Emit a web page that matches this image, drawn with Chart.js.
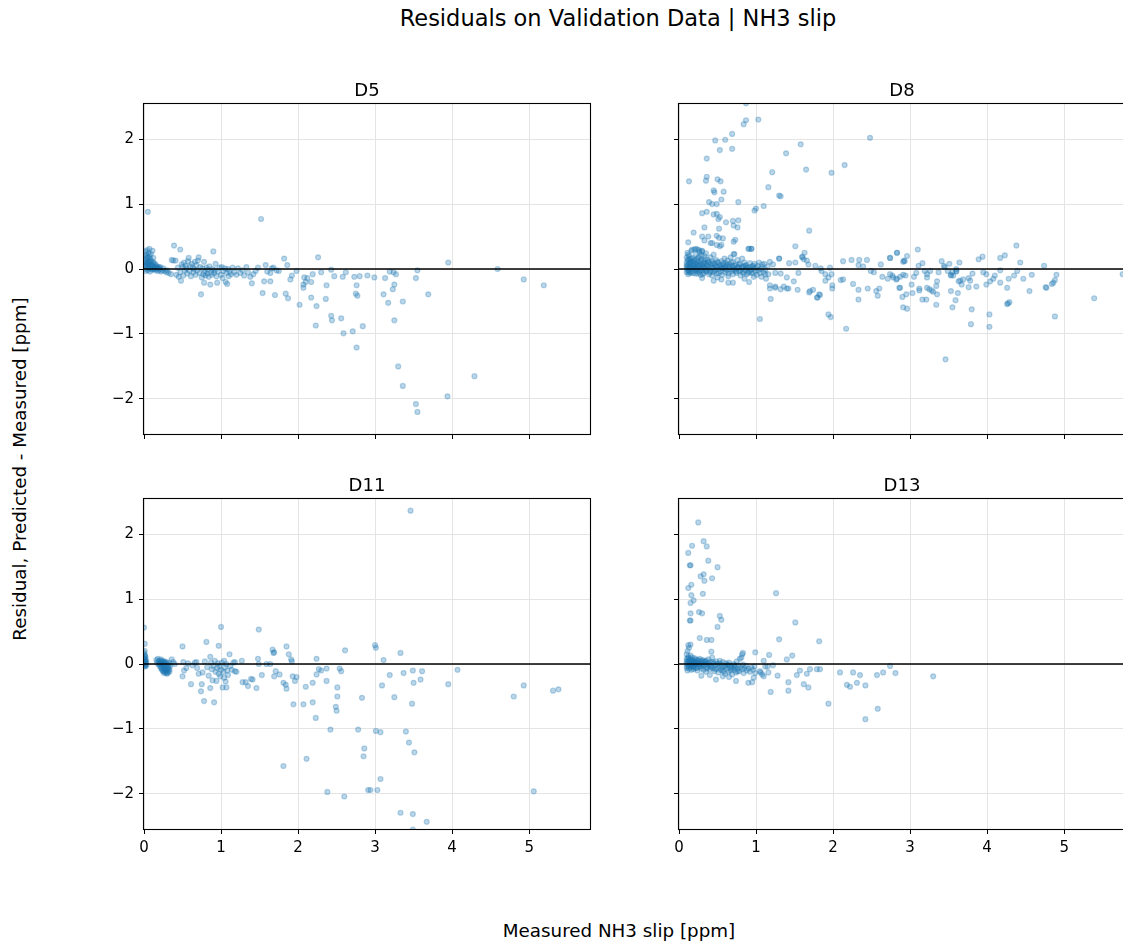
<!DOCTYPE html>
<html>
<head>
<meta charset="utf-8">
<script src="https://cdn.jsdelivr.net/npm/chart.js@4.4.1/dist/chart.umd.min.js"></script>
<style>
  html, body { margin: 0; padding: 0; background: #fff; overflow: hidden; width: 1123px; height: 942px; }
  .lbl { position: absolute; font-family: "DejaVu Sans", sans-serif; color: #000; white-space: nowrap; transform: translate(-50%, -50%); }
  canvas { position: absolute; }
</style>
</head>
<body>
<div class="lbl" style="left:618px; top:18px; font-size:22.5px;">Residuals on Validation Data | NH3 slip</div>
<div class="lbl" style="left:619px; top:930px; font-size:18.3px;">Measured NH3 slip [ppm]</div>
<div class="lbl" style="left:19px; top:469px; font-size:18.3px; transform:translate(-50%, -50%) rotate(-90deg);">Residual, Predicted - Measured [ppm]</div>

<canvas id="p0" width="566" height="410" style="left:84px; top:64px;"></canvas>
<canvas id="p1" width="566" height="410" style="left:619px; top:64px;"></canvas>
<canvas id="p2" width="566" height="410" style="left:84px; top:459px;"></canvas>
<canvas id="p3" width="566" height="410" style="left:619px; top:459px;"></canvas>

<script>
// Panel titles (one per dryer line)
const panelTitles = ['D5', 'D8', 'D11', 'D13'];

// Shared axis settings
const xLimits = [0, 5.79];
const yLimits = [-2.54, 2.54];
const xTickValues = [0, 1, 2, 3, 4, 5];
const yTickValues = [-2, -1, 0, 1, 2];
const yTickLabels = ['\u22122', '\u22121', '0', '1', '2'];
const zeroLevel = 0;

// Residuals: [measured NH3 slip, predicted - measured]
const d5Points = [
  [0.01,0.05],[0.01,0.12],[0.01,0.20],[0.02,0.27],[0.02,0.00],[0.02,-0.03],[0.03,0.08],[0.03,0.15],[0.03,0.22],[0.04,0.03],
  [0.04,0.10],[0.04,0.29],[0.05,0.18],[0.05,-0.02],[0.05,0.06],[0.06,0.25],[0.06,0.13],[0.06,0.01],[0.07,0.09],[0.07,0.20],
  [0.07,0.31],[0.08,0.04],[0.08,-0.04],[0.08,0.16],[0.09,0.23],[0.09,0.07],[0.10,0.02],[0.10,0.12],[0.11,0.28],[0.11,-0.01],
  [0.12,0.05],[0.12,0.17],[0.13,0.09],[0.13,0.00],[0.14,0.03],[0.15,-0.02],[0.15,0.07],[0.16,0.01],[0.17,0.04],[0.18,-0.03],
  [0.19,0.02],[0.20,-0.01],[0.21,0.03],[0.22,-0.04],[0.24,-0.02],[0.25,0.01],[0.27,-0.03],[0.29,-0.05],[0.30,-0.02],[0.05,0.88],
  [0.02,0.10],[0.03,0.04],[0.04,0.18],[0.05,0.11],[0.06,0.07],[0.07,0.02],[0.08,0.12],[0.09,0.00],[0.10,0.07],[0.11,0.03],
  [0.12,0.10],[0.14,0.00],[0.16,0.04],[0.18,0.01],[0.20,0.02],
  [0.32,-0.06],[0.35,-0.08],[0.36,0.14],[0.38,0.13],[0.39,0.36],[0.41,0.13],[0.42,-0.09],[0.44,0.02],[0.45,-0.12],[0.47,0.30],
  [0.47,-0.05],[0.48,-0.18],[0.49,0.07],[0.50,0.03],[0.51,-0.10],[0.52,0.10],[0.53,-0.02],[0.54,0.05],[0.55,0.01],[0.56,-0.07],
  [0.57,0.12],[0.58,0.17],[0.59,-0.03],[0.60,0.04],[0.61,-0.11],[0.62,0.08],[0.63,0.02],[0.64,-0.05],[0.65,0.00],[0.66,0.11],
  [0.67,-0.09],[0.68,0.06],[0.69,-0.02],[0.70,0.13],[0.71,0.18],[0.72,-0.06],[0.73,0.03],[0.74,-0.39],[0.75,-0.13],[0.76,0.01],
  [0.77,-0.08],[0.78,0.11],[0.78,-0.21],[0.79,-0.04],[0.80,-0.10],[0.81,0.02],[0.82,-0.07],[0.83,-0.01],[0.84,-0.12],[0.85,0.04],
  [0.86,-0.24],[0.87,-0.05],[0.88,-0.09],[0.89,0.00],[0.90,0.27],[0.91,-0.06],[0.92,-0.02],[0.93,0.08],[0.94,-0.11],[0.95,-0.21],
  [0.96,-0.04],[0.98,0.02],[1.00,-0.09],[1.01,0.03],[1.02,-0.14],[1.03,-0.03],[1.05,0.01],[1.06,-0.20],[1.07,-0.06],[1.08,-0.23],
  [1.09,0.00],[1.10,-0.11],[1.11,-0.04],[1.13,-0.08],[1.15,0.02],[1.17,-0.05],[1.20,-0.09],[1.22,0.01],[1.25,-0.06],[1.28,-0.02],
  [1.30,-0.10],[1.33,0.03],[1.35,-0.05],[1.38,-0.12],[1.40,-0.22],[1.42,-0.08],[1.45,-0.03],[1.48,0.02],[1.52,0.77],[1.54,-0.37],
  [1.56,-0.19],[1.58,0.06],[1.60,-0.04],[1.64,-0.19],[1.64,-0.06],[1.66,0.01],[1.68,0.02],[1.70,-0.40],[1.72,-0.02],[1.75,-0.03],
  [1.82,0.16],[1.84,-0.38],[1.86,0.06],[1.87,-0.45],[1.90,-0.16],[1.92,-0.10],[1.98,-0.03],[2.02,-0.55],[2.07,-0.24],[2.07,-0.29],
  [2.08,-0.13],[2.10,-0.20],[2.12,-0.14],[2.17,-0.20],[2.17,-0.44],[2.19,-0.08],[2.23,-0.87],[2.24,-0.57],[2.26,0.18],[2.30,-0.05],
  [2.36,-0.46],[2.37,-0.25],[2.43,-0.01],[2.43,-0.72],[2.44,-0.79],[2.47,-0.11],[2.56,-0.76],[2.58,-0.12],[2.59,-0.99],[2.62,-0.05],
  [2.71,-0.96],[2.73,-0.12],[2.76,-1.21],[2.76,-0.25],[2.75,-0.38],[2.77,-0.41],[2.80,-0.11],[2.84,-0.88],[2.90,-0.10],[2.99,-0.13],
  [3.11,-0.39],[3.13,-0.14],[3.17,-0.52],[3.19,-0.04],[3.23,-0.31],[3.24,-0.05],[3.25,-0.24],[3.25,-0.79],[3.27,-0.08],[3.30,-1.50],
  [3.36,-1.80],[3.36,-0.50],[3.53,-2.08],[3.53,-0.14],[3.55,-2.20],[3.55,-0.02],[3.69,-0.39],[3.94,-1.96],[3.95,0.10],[4.29,-1.65],
  [4.59,0.00],[4.93,-0.16],[5.19,-0.25]
];

const d8Points = [
  [0.10,0.02],[0.10,0.10],[0.10,-0.05],[0.10,0.18],[0.11,0.06],[0.11,-0.02],[0.11,0.25],[0.12,0.13],[0.12,0.00],[0.12,-0.08],
  [0.13,0.08],[0.13,0.20],[0.13,-0.03],[0.14,0.04],[0.14,0.15],[0.15,-0.06],[0.15,0.11],[0.16,0.01],[0.16,0.28],[0.17,0.07],
  [0.17,-0.04],[0.18,0.17],[0.18,0.03],[0.19,-0.01],[0.19,0.12],[0.20,0.05],[0.20,0.30],[0.21,-0.07],[0.21,0.09],[0.22,0.02],
  [0.22,0.22],[0.23,0.14],[0.23,-0.03],[0.24,0.06],[0.24,0.30],[0.25,0.00],[0.25,0.11],[0.26,-0.05],[0.26,0.19],[0.27,0.04],
  [0.27,0.26],[0.28,0.08],[0.28,-0.09],[0.29,0.01],[0.29,0.15],[0.30,0.28],[0.30,-0.02],[0.31,0.07],[0.32,0.12],[0.32,-0.06],
  [0.33,0.03],[0.33,0.20],[0.34,-0.01],[0.35,0.09],[0.35,0.24],[0.36,-0.04],[0.37,0.05],[0.37,0.14],[0.38,0.00],[0.39,-0.08],
  [0.39,0.10],[0.40,0.03],[0.41,0.18],[0.41,-0.03],[0.42,0.07],[0.43,-0.10],[0.43,0.12],[0.44,0.02],[0.45,-0.05],[0.45,0.22],
  [0.46,0.08],[0.47,-0.01],[0.47,0.05],[0.48,0.14],[0.49,-0.07],[0.50,0.04],[0.50,-0.13],[0.51,0.10],[0.52,0.00],[0.53,0.06],
  [0.54,-0.04],[0.55,0.12],[0.55,0.02],[0.56,-0.09],[0.57,0.07],[0.58,0.01],[0.59,0.16],[0.60,-0.05],[0.60,0.04],[0.61,0.09],
  [0.62,-0.02],[0.63,0.13],[0.64,0.03],[0.64,-0.11],[0.65,0.07],[0.66,0.00],[0.67,0.18],[0.68,-0.04],[0.69,0.05],[0.70,0.11],
  [0.70,-0.08],[0.71,0.02],[0.72,0.23],[0.73,-0.01],[0.74,0.06],[0.75,-0.06],[0.76,0.14],[0.77,0.03],[0.78,-0.03],[0.79,0.08],
  [0.80,-0.10],[0.81,0.01],[0.82,0.16],[0.83,-0.05],[0.84,0.04],[0.85,0.10],[0.86,-0.02],[0.87,0.06],[0.88,-0.08],[0.89,0.02],
  [0.90,0.31],[0.91,-0.04],[0.92,0.09],[0.93,-0.01],[0.94,0.31],[0.95,0.04],[0.96,-0.07],[0.97,0.01],[0.98,0.08],[0.99,-0.03],
  [1.00,0.02],[1.01,-0.09],[1.02,0.05],[1.03,-0.02],[1.04,0.10],[1.05,-0.06],[1.06,0.00],[1.07,-0.12],[1.08,0.03],[1.10,-0.05],
  [1.11,0.08],[1.12,-0.01],[1.13,-0.15],[1.15,0.04],[1.16,-0.08],[1.18,-0.25],[1.19,-0.46],[1.05,-0.77],[0.64,-0.21],[0.70,-0.21],
  [0.91,-0.20],[0.30,-0.14],[0.45,-0.18],[0.55,-0.16],[0.85,-0.15],[0.97,-0.12],[0.17,0.30],[0.22,0.31],[0.26,0.29],[0.30,0.27],
  [0.10,0.05],[0.11,0.14],[0.12,0.22],[0.12,0.03],[0.13,-0.05],[0.14,0.10],[0.15,0.02],[0.16,0.16],[0.17,0.11],[0.18,-0.06],
  [0.19,0.06],[0.20,0.14],[0.21,0.02],[0.22,-0.02],[0.23,0.08],[0.24,-0.07],[0.25,0.17],[0.26,0.06],[0.27,-0.02],[0.28,0.12],
  [0.29,0.21],[0.30,0.04],[0.31,-0.08],[0.32,0.02],[0.33,0.09],[0.34,0.15],[0.35,-0.03],[0.36,0.06],[0.38,0.11],[0.40,-0.05],
  [0.42,0.02],[0.44,0.09],[0.46,-0.03],[0.48,0.03],[0.50,0.11],[0.52,-0.06],[0.54,0.04],[0.56,0.01],[0.58,0.09],[0.60,0.00],
  [0.62,0.06],[0.64,-0.07],[0.66,0.04],[0.68,0.10],[0.70,-0.01],[0.72,0.05],[0.74,-0.04],[0.76,0.02],[0.78,0.07],[0.80,-0.02],
  [0.82,0.03],[0.84,-0.07],[0.86,0.05],[0.88,0.01],[0.90,-0.06],[0.92,0.03],[0.94,-0.05],[0.96,0.05],
  [0.87,2.55],[0.84,2.23],[0.87,2.29],[1.03,2.30],[2.48,2.02],[0.47,1.98],[0.60,1.99],[0.69,2.08],[0.53,1.83],[0.69,1.85],
  [1.58,1.92],[0.36,1.70],[1.39,1.78],[0.13,1.35],[0.35,1.36],[0.36,1.42],[0.50,1.38],[0.54,1.35],[1.21,1.49],[1.65,1.53],
  [1.98,1.48],[2.15,1.60],[0.45,1.21],[0.46,1.18],[0.58,1.19],[1.16,1.26],[1.30,1.13],[1.32,1.12],[0.39,1.03],[0.43,1.00],
  [0.49,1.00],[0.55,1.07],[0.77,1.03],[1.00,0.93],[0.98,0.90],[1.10,0.97],[0.30,0.86],[0.36,0.88],[0.45,0.84],[0.49,0.85],
  [0.51,0.77],[0.53,0.80],[0.61,0.72],[0.70,0.74],[0.77,0.75],[0.71,0.67],[0.76,0.64],[0.33,0.64],[0.52,0.62],[1.69,0.59],
  [0.19,0.56],[0.30,0.50],[0.38,0.50],[0.49,0.51],[0.52,0.48],[0.57,0.47],[0.73,0.45],[0.71,0.42],[0.33,0.44],[0.41,0.40],
  [0.43,0.40],[0.49,0.37],[0.53,0.35],[0.55,0.37],[1.51,0.35],[0.12,0.41],[0.91,0.31],[0.94,0.31],[1.63,0.25],[1.60,0.19],
  [1.66,0.13],[1.30,0.16],[0.71,0.23],
  [1.18,-0.30],[1.25,-0.27],[1.36,-0.27],[1.42,-0.30],[1.54,-0.32],[1.90,-0.18],[1.94,-0.13],[1.99,-0.25],[1.99,-0.30],[2.10,-0.17],
  [2.13,-0.16],[2.26,-0.23],[2.33,-0.32],[2.33,-0.47],[2.45,-0.30],[2.56,-0.34],[2.60,-0.30],[2.58,-0.41],[1.94,-0.70],[1.97,-0.74],
  [2.17,-0.92],[1.80,-0.44],[1.83,-0.40],[1.69,-0.36],[1.74,-0.32],[1.85,-0.03],[2.13,0.12],[2.24,0.14],[2.34,0.14],[2.44,0.14],
  [2.62,0.07],[2.74,0.17],[2.83,0.25],[2.33,0.06],[2.39,0.04],[2.49,-0.03],[2.53,-0.05],[2.64,-0.12],[2.71,-0.15],[2.77,-0.10],
  [2.86,-0.29],[2.82,-0.16],[1.08,0.07],[1.18,0.11],[1.22,0.07],[1.30,0.16],[1.43,0.09],[1.51,0.10],[1.60,0.18],[1.62,0.15],
  [1.68,0.07],[1.77,0.05],[1.84,0.01],[1.96,0.02],[1.12,-0.08],[1.25,-0.06],[1.32,-0.07],[1.40,-0.13],[1.49,-0.19],[1.55,-0.06],
  [1.70,-0.34],[1.79,-0.44],[1.82,-0.39],[1.90,-0.08],[1.98,-0.08],[1.25,-0.29],[1.32,-0.31],[1.40,-0.30],
  [3.10,0.30],[4.38,0.36],[2.83,0.25],[2.74,0.17],[2.96,0.20],[2.92,0.13],[2.91,0.11],[2.93,0.12],[3.16,0.09],[3.11,0.05],
  [3.41,0.12],[3.51,0.08],[3.64,0.10],[3.44,0.05],[3.89,0.15],[3.94,0.19],[4.17,0.17],[4.23,0.21],[4.43,0.10],[4.74,0.05],
  [4.90,-0.09],[4.88,-0.17],[4.86,-0.21],[4.84,-0.23],[4.76,-0.28],[4.77,-0.29],[4.88,-0.73],[5.39,-0.45],[5.76,-0.08],[3.46,-1.39],
  [3.79,-0.85],[3.80,-0.62],[4.03,-0.70],[4.03,-0.89],[4.27,-0.53],[4.29,-0.51],[4.26,-0.54],[4.55,-0.34],[3.55,-0.59],[3.59,-0.48],
  [3.62,-0.37],[3.34,-0.55],[3.35,-0.39],[3.16,-0.47],[3.21,-0.47],[2.91,-0.59],[2.96,-0.61],[2.90,-0.43],[2.95,-0.39],[3.03,-0.37],
  [3.02,-0.24],[2.87,-0.29],[3.12,-0.30],[3.12,-0.33],[3.22,-0.29],[3.25,-0.31],[3.28,-0.33],[3.30,-0.35],[3.34,-0.26],[3.35,-0.19],
  [3.53,-0.34],[3.53,-0.09],[3.55,-0.05],[3.60,-0.03],[3.63,-0.19],[3.65,-0.18],[3.67,-0.24],[3.69,-0.16],[3.76,-0.14],[3.76,-0.28],
  [3.78,-0.18],[3.81,-0.07],[3.86,-0.27],[3.95,-0.05],[3.99,-0.08],[3.99,-0.24],[4.04,-0.19],[4.08,-0.15],[4.10,-0.10],[4.17,-0.21],
  [4.17,-0.02],[4.26,-0.29],[4.28,-0.15],[4.35,-0.10],[4.39,-0.03],[4.47,-0.15],[4.58,-0.09],[2.74,-0.08],[2.78,-0.13],[2.83,-0.15],
  [2.87,-0.12],[2.91,-0.09],[2.94,-0.10],[3.05,-0.12],[3.08,-0.06],[3.19,-0.03],[3.22,-0.08],[3.22,-0.13],[3.26,-0.03],[3.37,-0.05],
  [3.45,0.03],[3.49,-0.03],[3.53,-0.10],[3.56,-0.10],[3.60,-0.04],[3.60,0.00]
];

const d11Points = [
  [0.00,0.56],[0.01,0.31],[0.01,0.20],[0.01,0.14],[0.01,0.09],[0.01,0.05],[0.01,0.02],[0.01,-0.01],[0.01,-0.04],[0.02,0.11],
  [0.02,0.07],[0.02,0.00],[0.02,-0.03],[0.00,0.17],[0.00,0.03],[0.03,0.04],[0.03,-0.02],[0.02,0.04],[0.01,0.12],[0.00,0.08],
  [0.02,0.02],
  [0.16,0.06],[0.17,0.02],[0.18,0.08],[0.19,0.04],[0.19,-0.01],[0.20,0.05],[0.21,0.01],[0.21,-0.04],[0.22,0.03],[0.22,0.07],
  [0.23,-0.02],[0.23,-0.08],[0.24,0.02],[0.24,-0.05],[0.25,-0.11],[0.25,0.04],[0.26,-0.01],[0.26,-0.14],[0.27,-0.07],[0.27,0.01],
  [0.28,-0.03],[0.28,-0.12],[0.29,-0.09],[0.29,0.03],[0.30,-0.05],[0.30,-0.15],[0.31,-0.10],[0.31,0.00],[0.32,-0.06],[0.33,-0.12],
  [0.33,0.02],[0.34,-0.03],[0.36,0.07],[0.38,0.03],[0.40,0.00],[0.20,0.00],[0.22,-0.06],[0.24,-0.10],[0.25,0.00],[0.26,-0.08],
  [0.27,-0.12],[0.28,0.02],[0.29,-0.14],[0.30,-0.08],[0.31,-0.13],[0.32,-0.02],[0.33,-0.09],[0.23,0.05],[0.26,0.04],
  [0.50,0.27],[0.50,-0.19],[0.51,0.03],[0.52,-0.10],[0.55,-0.06],[0.57,0.01],[0.61,-0.31],[0.63,-0.02],[0.66,0.02],[0.68,0.03],
  [0.69,-0.06],[0.71,-0.15],[0.74,-0.42],[0.75,-0.31],[0.76,-0.13],[0.78,-0.57],[0.79,0.04],[0.81,0.34],[0.82,-0.05],[0.84,-0.18],
  [0.86,-0.37],[0.86,0.11],[0.87,0.02],[0.88,-0.08],[0.89,-0.25],[0.90,-0.03],[0.91,-0.59],[0.92,0.05],[0.93,-0.12],[0.94,-0.26],
  [0.95,-0.06],[0.96,0.01],[0.97,0.28],[0.97,-0.15],[0.98,-0.04],[0.99,-0.19],[1.00,0.57],[1.00,-0.09],[1.01,0.02],[1.02,-0.36],
  [1.03,-0.12],[1.04,-0.21],[1.04,0.05],[1.05,-0.05],[1.06,-0.27],[1.07,-0.36],[1.07,0.00],[1.08,-0.10],[1.09,-0.17],[1.11,0.15],
  [1.12,-0.03],[1.14,-0.09],[1.16,0.02],[1.18,0.03],[1.18,-0.11],[1.20,-0.12],[1.27,0.05],[1.28,-0.28],[1.32,-0.28],[1.35,-0.34],
  [1.39,-0.23],[1.41,-0.24],[1.46,-0.37],[1.48,0.08],[1.49,0.53],[1.49,0.00],[1.53,-0.17],[1.59,0.00],[1.64,0.00],[1.69,-0.19],
  [1.71,-0.11],[1.76,-0.16],[1.67,0.22],[1.68,0.17],[1.69,0.18],[1.81,-0.29],[1.81,-1.57],[1.84,-0.32],[1.85,-0.38],[1.85,0.27],
  [1.88,0.15],[1.91,0.07],[1.92,0.04],[1.93,-0.19],[1.94,-0.62],[1.96,-0.26],[1.98,-0.20],[2.07,-0.62],[2.10,-0.35],[2.11,-1.46],
  [2.19,-0.29],[2.19,-0.59],[2.23,-0.83],[2.24,0.08],[2.24,-0.16],[2.27,-0.08],[2.30,-0.10],[2.37,-0.07],[2.37,-0.26],[2.38,-1.97],
  [2.42,-1.01],[2.49,-0.66],[2.50,-0.72],[2.51,-0.36],[2.51,-0.50],[2.54,-0.07],[2.56,-0.11],[2.60,-2.04],[2.61,0.21],[2.78,-1.01],
  [2.83,-0.52],[2.86,-1.30],[2.85,-1.42],[2.91,-1.94],[3.00,0.29],[3.01,0.25],[3.33,0.17],[3.11,0.06],[3.19,-0.17],[3.37,-0.14],
  [3.49,-0.10],[3.61,-0.11],[3.59,-0.24],[3.50,-0.29],[3.09,-0.33],[3.25,-0.51],[3.48,-0.61],[3.95,-0.31],[4.07,-0.09],[4.80,-0.50],
  [4.93,-0.33],[5.31,-0.41],[5.38,-0.39],[3.01,-1.03],[3.07,-1.05],[3.40,-1.04],[3.44,-1.21],[3.51,-1.36],[3.07,-1.77],[2.94,-1.94],
  [3.03,-1.94],[5.06,-1.96],[3.33,-2.29],[3.49,-2.31],[3.67,-2.43],[3.49,-2.55],[3.46,2.36]
];

const d13Points = [
  [0.25,2.18],[0.32,1.89],[0.36,1.81],[0.17,1.82],[0.12,1.71],[0.38,1.59],[0.50,1.49],[0.14,1.52],[0.15,1.52],[0.28,1.35],
  [0.32,1.38],[0.33,1.28],[0.43,1.32],[0.16,1.22],[0.12,1.17],[0.31,1.08],[0.16,1.06],[0.19,0.98],[0.15,0.94],[1.26,1.09],
  [0.26,0.80],[0.30,0.78],[0.15,0.78],[0.15,0.67],[0.14,0.67],[0.53,0.74],[0.55,0.68],[0.50,0.57],[1.51,0.64],[0.27,0.40],
  [0.36,0.37],[0.42,0.37],[1.30,0.38],[1.82,0.35],[0.12,0.29],[0.15,0.30],[0.42,0.19],[0.99,0.18],[1.17,0.14],[1.47,0.13],
  [1.40,0.07],[0.82,0.15],[0.83,0.17],
  [0.10,0.00],[0.10,0.08],[0.10,-0.06],[0.10,0.15],[0.11,0.03],[0.11,-0.10],[0.11,0.20],[0.12,0.05],[0.12,-0.03],[0.12,0.11],
  [0.13,-0.07],[0.13,0.02],[0.13,0.25],[0.14,0.08],[0.14,-0.01],[0.15,0.13],[0.15,-0.05],[0.16,0.04],[0.16,-0.09],[0.17,0.00],
  [0.17,0.10],[0.18,-0.04],[0.18,0.06],[0.19,0.02],[0.19,-0.08],[0.20,0.09],[0.20,-0.02],[0.21,0.04],[0.22,-0.06],[0.22,0.07],
  [0.23,0.00],[0.24,0.05],[0.24,-0.10],[0.25,0.02],[0.26,-0.04],[0.27,0.08],[0.27,-0.01],[0.28,0.04],[0.29,-0.07],[0.30,0.01],
  [0.31,0.06],[0.31,-0.03],[0.32,-0.09],[0.33,0.03],[0.34,-0.02],[0.35,0.05],[0.35,-0.12],[0.36,0.00],[0.37,-0.05],[0.38,0.07],
  [0.39,-0.01],[0.40,-0.08],[0.41,0.03],[0.42,-0.03],[0.43,0.10],[0.44,-0.06],[0.45,0.01],[0.46,-0.11],[0.47,-0.02],[0.48,0.04],
  [0.49,-0.07],[0.50,0.00],[0.51,-0.13],[0.52,-0.04],[0.53,0.05],[0.54,-0.09],[0.55,-0.01],[0.56,-0.06],[0.57,0.03],[0.58,-0.11],
  [0.59,-0.03],[0.60,-0.15],[0.61,0.01],[0.62,-0.07],[0.63,-0.02],[0.64,-0.12],[0.65,0.02],[0.66,-0.05],[0.67,-0.10],[0.68,-0.03],
  [0.69,-0.16],[0.70,-0.06],[0.71,0.00],[0.72,-0.09],[0.73,-0.04],[0.74,-0.13],[0.75,0.04],[0.76,-0.07],[0.77,-0.02],[0.78,-0.11],
  [0.79,0.08],[0.80,-0.05],[0.81,0.10],[0.82,-0.08],[0.83,-0.01],[0.84,-0.14],[0.85,-0.06],[0.87,-0.03],[0.88,-0.10],[0.90,-0.07],
  [0.92,-0.12],[0.94,-0.05],[0.96,-0.09],[0.98,-0.04],[0.99,-0.14],[0.29,-0.18],[0.48,-0.24],[0.57,-0.19],[0.74,-0.26],[0.90,-0.29],
  [0.95,-0.28],[0.97,-0.21],[0.40,-0.17],[0.65,-0.20],
  [0.10,0.04],[0.11,-0.04],[0.12,0.09],[0.13,-0.02],[0.14,0.03],[0.15,0.06],[0.16,-0.02],[0.17,0.05],[0.18,0.01],[0.19,-0.05],
  [0.20,0.03],[0.21,-0.01],[0.22,0.02],[0.23,-0.06],[0.25,0.06],[0.26,0.00],[0.28,-0.04],[0.30,0.05],[0.32,0.00],[0.34,0.04],
  [0.36,-0.07],[0.38,0.02],[0.41,-0.05],[0.44,0.03],[0.47,-0.08],[0.52,0.01],[0.56,-0.10],[0.60,-0.04],[0.64,-0.01],[0.68,-0.08],
  [0.72,-0.02],[0.76,-0.11],
  [1.05,-0.11],[1.08,-0.16],[1.12,-0.04],[1.19,-0.43],[1.42,-0.28],[1.42,-0.41],[1.53,-0.17],[1.57,-0.10],[1.66,-0.15],[1.70,-0.08],
  [1.62,-0.31],[1.68,-0.36],[1.79,-0.08],[1.83,-0.08],[1.94,-0.61],[2.09,-0.13],[2.18,-0.32],[2.22,-0.35],[2.26,-0.13],[2.31,-0.29],
  [2.35,-0.17],[2.42,-0.85],[2.42,-0.33],[2.57,-0.17],[2.58,-0.69],[2.65,-0.13],[2.74,-0.03],[2.81,-0.14],[3.30,-0.19],[1.10,0.05],
  [1.16,-0.13],[1.22,-0.02],[1.28,-0.18],[1.06,-0.13],[1.10,-0.19],[1.15,-0.04]
];

const panelPoints = [d5Points, d8Points, d11Points, d13Points];

Chart.defaults.font.family = "'DejaVu Sans', sans-serif";
Chart.defaults.color = '#000';

// Draws the black frame around each plotting area (all four spines)
const framePlugin = {
  id: 'frame',
  afterDatasetsDraw(chart) {
    const a = chart.chartArea;
    const ctx = chart.ctx;
    ctx.save();
    ctx.strokeStyle = '#000';
    ctx.lineWidth = 1.1;
    ctx.strokeRect(a.left - 0.5, a.top - 0.5, a.right - a.left + 1, a.bottom - a.top + 1);
    ctx.restore();
  }
};

function makePanel(idx) {
  const showX = idx >= 2;
  const showY = idx % 2 === 0;
  const pts = panelPoints[idx].map(p => ({ x: p[0], y: p[1] }));
  new Chart(document.getElementById('p' + idx), {
    type: 'scatter',
    data: {
      datasets: [
        {
          type: 'line',
          data: [{ x: xLimits[0], y: zeroLevel }, { x: xLimits[1], y: zeroLevel }],
          borderColor: '#000',
          borderWidth: 1.5,
          pointRadius: 0,
          fill: false,
          clip: 0
        },
        {
          data: pts,
          pointRadius: 2.5,
          borderWidth: 1.2,
          backgroundColor: 'rgba(31,119,180,0.3)',
          borderColor: 'rgba(31,119,180,0.3)',
          clip: 0
        }
      ]
    },
    options: {
      responsive: false,
      animation: false,
      events: [],
      layout: { padding: { left: 0, right: 60, top: 0, bottom: 0 } },
      plugins: {
        legend: { display: false },
        tooltip: { enabled: false },
        title: {
          display: true,
          fullSize: false,
          text: panelTitles[idx],
          color: '#000',
          font: { size: 18, weight: 'normal' },
          padding: { top: 16.2, bottom: 2.2 }
        }
      },
      scales: {
        x: {
          type: 'linear',
          min: xLimits[0],
          max: xLimits[1],
          afterBuildTicks: s => { s.ticks = xTickValues.map(v => ({ value: v })); },
          afterFit: s => { s.height = 40; },
          border: { display: false },
          grid: { color: '#e4e4e4', lineWidth: 1, drawTicks: true, tickLength: 5, tickColor: '#000', tickWidth: 1 },
          ticks: {
            autoSkip: false, maxRotation: 0, padding: 5, color: '#000',
            font: { size: 15 },
            callback: v => showX ? String(v) : ''
          }
        },
        y: {
          type: 'linear',
          min: yLimits[0],
          max: yLimits[1],
          afterBuildTicks: s => { s.ticks = yTickValues.map(v => ({ value: v })); },
          afterFit: s => { s.width = 60; },
          border: { display: false },
          grid: { color: '#e4e4e4', lineWidth: 1, drawTicks: true, tickLength: 5, tickColor: '#000', tickWidth: 1 },
          ticks: {
            autoSkip: false, padding: 5, color: '#000',
            font: { size: 15 },
            callback: v => showY ? yTickLabels[yTickValues.indexOf(v)] : ''
          }
        }
      }
    },
    plugins: [framePlugin]
  });
}

for (let i = 0; i < 4; i++) makePanel(i);
</script>
</body>
</html>
